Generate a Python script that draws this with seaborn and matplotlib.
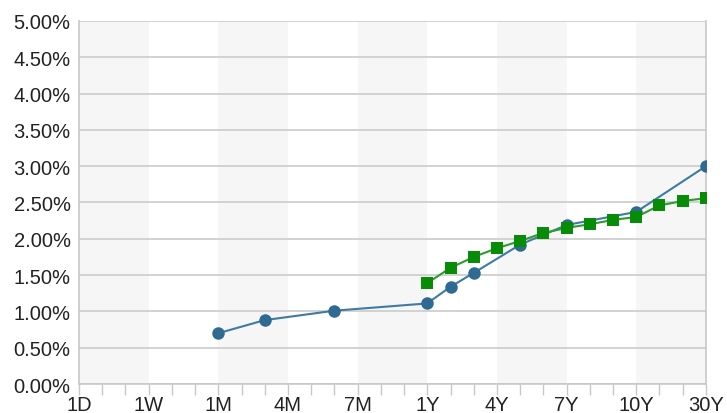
import matplotlib
matplotlib.use("Agg")
import matplotlib.pyplot as plt
import seaborn as sns
import pandas as pd
from matplotlib.ticker import FixedLocator, FuncFormatter

# tenor grid: each major label has two minor slots after it
tenor_slots = ["1D", "2D", "4D", "1W", "2W", "3W", "1M", "2M", "3M", "4M", "5M", "6M",
               "7M", "9M", "10M", "1Y", "2Y", "3Y", "4Y", "5Y", "6Y", "7Y", "8Y", "9Y",
               "10Y", "15Y", "20Y", "30Y"]
major_labels = ["1D", "1W", "1M", "4M", "7M", "1Y", "4Y", "7Y", "10Y", "30Y"]

blue_tenors = ["1M", "3M", "6M", "1Y", "2Y", "3Y", "5Y", "7Y", "10Y", "30Y"]
blue_values = [0.70, 0.88, 1.01, 1.11, 1.34, 1.53, 1.92, 2.19, 2.37, 3.00]

green_tenors = ["1Y", "2Y", "3Y", "4Y", "5Y", "6Y", "7Y", "8Y", "9Y", "10Y", "15Y", "20Y", "30Y"]
green_values = [1.39, 1.60, 1.75, 1.87, 1.97, 2.08, 2.15, 2.20, 2.26, 2.30, 2.46, 2.52, 2.56]

pos = {t: i / 3 for i, t in enumerate(tenor_slots)}
blue = pd.DataFrame({"x": [pos[t] for t in blue_tenors], "y": blue_values})
green = pd.DataFrame({"x": [pos[t] for t in green_tenors], "y": green_values})

sns.set_style("white")
plt.rcParams["font.family"] = ["Liberation Sans", "DejaVu Sans"]

fig = plt.figure(figsize=(7.27, 4.14), dpi=100)
ax = fig.add_axes([0.1087, 0.070, 0.8623, 0.877])

n_major = len(major_labels)
for i in range(0, n_major - 1, 2):
    ax.axvspan(i, i + 1, color="#f6f6f6", zorder=0, lw=0)

sns.lineplot(data=blue, x="x", y="y", ax=ax, color="#3f7aa3", lw=1.5,
             marker="o", markersize=9, markeredgewidth=0, markerfacecolor="#2f6a92", zorder=3)
sns.lineplot(data=green, x="x", y="y", ax=ax, color="#2f9a2f", lw=1.5,
             marker="s", markersize=8, markeredgewidth=0, markerfacecolor="#078c07", zorder=4)

ax.set_xlim(0, n_major - 1)
ax.set_ylim(0, 5)
ax.set_yticks([i * 0.5 for i in range(11)])
ax.yaxis.set_major_formatter(FuncFormatter(lambda v, _: f"{v:.2f}%"))
ax.set_xticks(range(n_major))
ax.set_xticklabels(major_labels)
ax.xaxis.set_minor_locator(FixedLocator([i / 3 for i in range(len(tenor_slots))]))
ax.grid(axis="y", color="#cfcfcf", lw=1.3, zorder=1)
ax.set_axisbelow(True)

ax.tick_params(axis="x", which="both", direction="out", length=8, width=1, color="#c8c8c8",
               bottom=True, pad=0, labelsize=14.5, labelcolor="#222222")
ax.tick_params(axis="y", length=0, pad=6, labelsize=14.5, labelcolor="#222222")

for side in ["left", "bottom", "right"]:
    ax.spines[side].set_color("#c8c8c8")
    ax.spines[side].set_linewidth(1.2)
ax.spines["top"].set_visible(False)
ax.set_xlabel("")
ax.set_ylabel("")

fig.savefig("out.png", dpi=100)
